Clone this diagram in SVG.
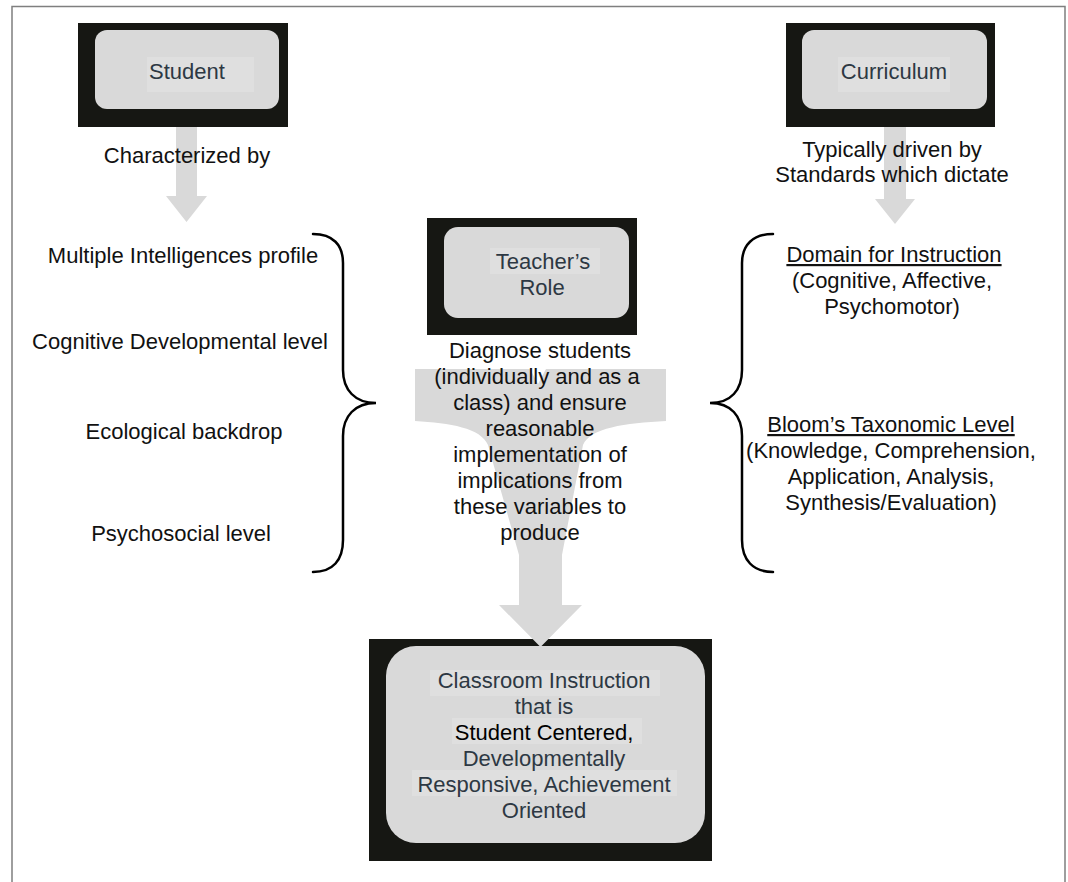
<svg xmlns="http://www.w3.org/2000/svg" width="1068" height="882" viewBox="0 0 1068 882">
  <style>
    text { font-family: "Liberation Sans", Arial, sans-serif; font-size: 22px; text-anchor: middle; }
    .plain { fill: #111; }
    .inbox { fill: #2d3843; }
    .frame { fill: none; stroke: #7f7f7f; stroke-width: 1.5; }
    .outer { fill: #161713; }
    .inner { fill: #d9d9d9; }
    .hl { fill: #dfdfdf; }
    .arrow { fill: #d9d9d9; }
    .brace { fill: none; stroke: #000; stroke-width: 2.5; stroke-linecap: round; }
    .ul { text-decoration: underline; }
  </style>
  <rect width="1068" height="882" fill="#fff"/>
  <path class="frame" d="M12,882 V6.5 H1065 V882"/>

  <g id="student">
    <rect class="outer" x="78" y="23" width="210" height="104"/>
    <rect class="inner" x="95" y="30" width="184" height="79" rx="12"/>
    <rect class="hl" x="147" y="57" width="107" height="35"/>
    <text class="inbox" x="187" y="79">Student</text>
  </g>

  <g id="curriculum">
    <rect class="outer" x="786" y="23" width="209" height="104"/>
    <rect class="inner" x="802" y="30" width="185" height="79" rx="12"/>
    <rect class="hl" x="838" y="57" width="112" height="35"/>
    <text class="inbox" x="894" y="79">Curriculum</text>
  </g>

  <g id="teacher">
    <rect class="outer" x="427" y="218" width="210" height="117"/>
    <rect class="inner" x="444" y="227" width="185" height="91" rx="14"/>
    <rect class="hl" x="490" y="248" width="110" height="26"/>
    <text class="inbox" x="543" y="269">Teacher’s</text>
    <text class="inbox" x="542" y="295">Role</text>
  </g>

  <g id="classroom">
    <rect class="outer" x="369" y="639" width="343" height="222"/>
    <rect class="inner" x="386" y="646" width="319" height="197" rx="30"/>
    <rect class="hl" x="430" y="670" width="230" height="26"/>
    <rect class="hl" x="452" y="718" width="190" height="26"/>
    <rect class="hl" x="412" y="770" width="265" height="26"/>
    <text class="inbox" x="544" y="688">Classroom Instruction</text>
    <text class="inbox" x="544" y="714">that is</text>
    <text fill="#000" x="544" y="740">Student Centered,</text>
    <text class="inbox" x="544" y="766">Developmentally</text>
    <text class="inbox" x="544" y="792">Responsive, Achievement</text>
    <text class="inbox" x="544" y="818">Oriented</text>
  </g>

  <g id="connectors">
    <path class="arrow" d="M176,127 H197 V196 H207 L186.5,222 L166,196 H176 Z"/>
    <path class="arrow" d="M884,127 H906 V199 H915 L895,224 L875,199 H884 Z"/>
    <path class="arrow" d="M415,369 H666 V421 C625,423 590,428 583,445 L562,555 V605 H582 L540.5,647 L499,605 H519 V555 L488,445 C481,428 450,423 415,421 Z"/>
    <path fill="#fff" d="M530,369 H546 L538,384 Z"/>
    <path class="brace" d="M313,234 C333,234 343,245 343,263 V370 C343,390 355,403 376,403 C355,403 343,416 343,436 V540 C343,560 333,572 313,572"/>
    <path class="brace" d="M773,234 C753,234 742,245 742,263 V370 C742,390 731,403 710,403 C731,403 742,416 742,436 V540 C742,560 753,572 773,572"/>
  </g>

  <g id="labels">
    <text class="plain" x="187" y="163">Characterized by</text>
    <text class="plain" x="892" y="157">Typically driven by</text>
    <text class="plain" x="892" y="182">Standards which dictate</text>

    <text class="plain" x="183" y="263">Multiple Intelligences profile</text>
    <text class="plain" x="180" y="349">Cognitive Developmental level</text>
    <text class="plain" x="184" y="439">Ecological backdrop</text>
    <text class="plain" x="181" y="541">Psychosocial level</text>

    <text class="plain" x="540" y="358">Diagnose students</text>
    <text class="plain" x="537" y="384">(individually and as a</text>
    <text class="plain" x="540" y="410">class) and ensure</text>
    <text class="plain" x="540" y="436">reasonable</text>
    <text class="plain" x="540" y="462">implementation of</text>
    <text class="plain" x="540" y="488">implications from</text>
    <text class="plain" x="540" y="514">these variables to</text>
    <text class="plain" x="540" y="540">produce</text>

    <text class="plain ul" x="894" y="262">Domain for Instruction</text>
    <text class="plain" x="892" y="288">(Cognitive, Affective,</text>
    <text class="plain" x="892" y="314">Psychomotor)</text>

    <text class="plain ul" x="891" y="432">Bloom’s Taxonomic Level</text>
    <text class="plain" x="891" y="458">(Knowledge, Comprehension,</text>
    <text class="plain" x="891" y="484">Application, Analysis,</text>
    <text class="plain" x="891" y="510">Synthesis/Evaluation)</text>
  </g>
</svg>
